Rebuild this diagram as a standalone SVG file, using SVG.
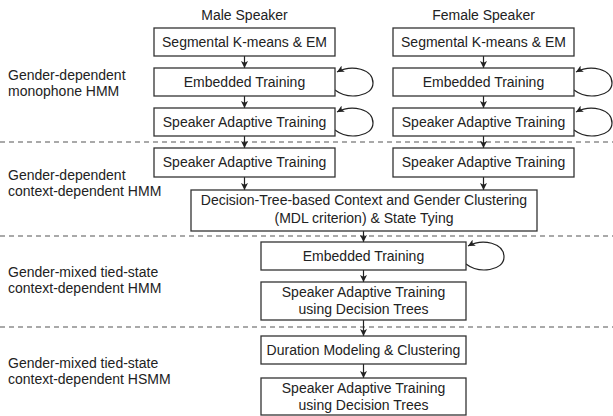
<svg xmlns="http://www.w3.org/2000/svg" width="613" height="416" viewBox="0 0 613 416">
<defs>
<style>
text{font-family:"Liberation Sans",Arial,sans-serif;font-size:14px;fill:#222}
.c{text-anchor:middle}
.box{fill:#fff;stroke:#333;stroke-width:1.3}
.dash{stroke:#555;stroke-width:1.1;stroke-dasharray:5,4;fill:none}
.arr{stroke:#222;stroke-width:1.2;fill:none;marker-end:url(#ah)}
</style>
<marker id="ah" viewBox="0 0 8 8" refX="8" refY="4" markerWidth="7" markerHeight="7" markerUnits="userSpaceOnUse" orient="auto">
<path d="M0,0 L8,4 L0,8 L2,4 z" fill="#222"/>
</marker>
</defs>
<rect width="613" height="416" fill="#fff"/>
<g id="separators">
<line class="dash" x1="0" y1="142" x2="613" y2="142"/>
<line class="dash" x1="0" y1="236" x2="613" y2="236"/>
<line class="dash" x1="0" y1="327" x2="613" y2="327"/>
</g>
<g id="stage-labels">
<text x="8" y="80">Gender-dependent</text>
<text x="8" y="96">monophone HMM</text>
<text x="8" y="180">Gender-dependent</text>
<text x="8" y="196">context-dependent HMM</text>
<text x="8" y="277">Gender-mixed tied-state</text>
<text x="8" y="293">context-dependent HMM</text>
<text x="8" y="368">Gender-mixed tied-state</text>
<text x="8" y="384">context-dependent HSMM</text>
</g>
<g id="headers">
<text class="c" x="244.5" y="20">Male Speaker</text>
<text class="c" x="483.5" y="20">Female Speaker</text>
</g>
<g id="connectors">
<line class="arr" x1="244.5" y1="56" x2="244.5" y2="68"/>
<line class="arr" x1="244.5" y1="96" x2="244.5" y2="108"/>
<line class="arr" x1="244.5" y1="136" x2="244.5" y2="148"/>
<line class="arr" x1="244.5" y1="177" x2="244.5" y2="190"/>
<line class="arr" x1="483.5" y1="56" x2="483.5" y2="68"/>
<line class="arr" x1="483.5" y1="96" x2="483.5" y2="108"/>
<line class="arr" x1="483.5" y1="136" x2="483.5" y2="148"/>
<line class="arr" x1="483.5" y1="177" x2="483.5" y2="190"/>
<line class="arr" x1="363.5" y1="231" x2="363.5" y2="242"/>
<line class="arr" x1="363.5" y1="270" x2="363.5" y2="282"/>
<line class="arr" x1="363.5" y1="320" x2="363.5" y2="336"/>
<line class="arr" x1="363.5" y1="364" x2="363.5" y2="378"/>
<path class="arr" d="M335,90 C348,100 373,97 373,83 C373,69 352,64 337,72"/>
<path class="arr" d="M335,130 C348,140 373,137 373,123 C373,109 352,104 337,112"/>
<path class="arr" d="M574,90 C587,100 612,97 612,83 C612,69 591,64 576,72"/>
<path class="arr" d="M574,130 C587,140 612,137 612,123 C612,109 591,104 576,112"/>
<path class="arr" d="M466,264 C479,274 504,271 504,257 C504,243 483,238 468,246"/>
</g>
<g id="male-segkmeans"><rect class="box" x="154" y="28" width="181" height="28"/><text class="c" x="244.5" y="47">Segmental K-means &amp; EM</text></g>
<g id="male-embedded"><rect class="box" x="154" y="68" width="181" height="28"/><text class="c" x="244.5" y="87">Embedded Training</text></g>
<g id="male-sat1"><rect class="box" x="154" y="108" width="181" height="28"/><text class="c" x="244.5" y="127">Speaker Adaptive Training</text></g>
<g id="male-sat2"><rect class="box" x="154" y="148" width="181" height="29"/><text class="c" x="244.5" y="167">Speaker Adaptive Training</text></g>
<g id="female-segkmeans"><rect class="box" x="393" y="28" width="181" height="28"/><text class="c" x="483.5" y="47">Segmental K-means &amp; EM</text></g>
<g id="female-embedded"><rect class="box" x="393" y="68" width="181" height="28"/><text class="c" x="483.5" y="87">Embedded Training</text></g>
<g id="female-sat1"><rect class="box" x="393" y="108" width="181" height="28"/><text class="c" x="483.5" y="127">Speaker Adaptive Training</text></g>
<g id="female-sat2"><rect class="box" x="393" y="148" width="181" height="29"/><text class="c" x="483.5" y="167">Speaker Adaptive Training</text></g>
<g id="clustering"><rect class="box" x="191" y="190" width="346" height="41"/><text class="c" x="364" y="205">Decision-Tree-based Context and Gender Clustering</text><text class="c" x="364" y="223">(MDL criterion) &amp; State Tying</text></g>
<g id="mixed-embedded"><rect class="box" x="261" y="242" width="205" height="28"/><text class="c" x="363.5" y="261">Embedded Training</text></g>
<g id="mixed-sat"><rect class="box" x="261" y="282" width="205" height="38"/><text class="c" x="363.5" y="297">Speaker Adaptive Training</text><text class="c" x="363.5" y="314">using Decision Trees</text></g>
<g id="duration"><rect class="box" x="261" y="336" width="205" height="28"/><text class="c" x="363.5" y="355">Duration Modeling &amp; Clustering</text></g>
<g id="hsmm-sat"><rect class="box" x="261" y="378" width="205" height="37"/><text class="c" x="363.5" y="393">Speaker Adaptive Training</text><text class="c" x="363.5" y="410">using Decision Trees</text></g>
</svg>
